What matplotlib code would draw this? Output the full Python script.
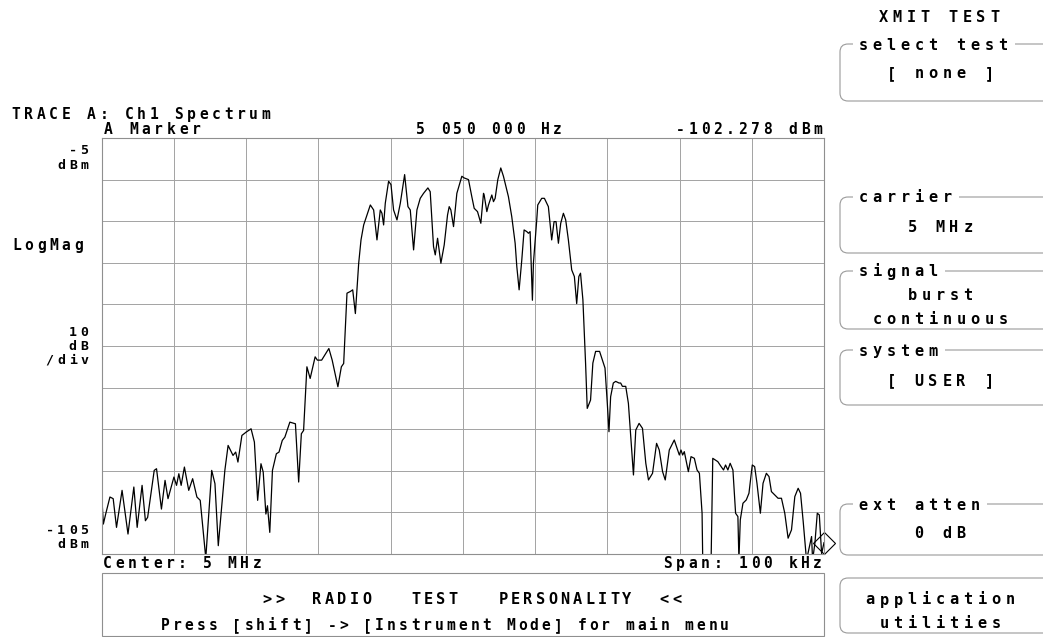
import matplotlib
matplotlib.use("Agg")
import matplotlib.pyplot as plt
from matplotlib.patches import FancyBboxPatch, Rectangle
import numpy as np

W, H = 1043, 637

# Trace A: channel spectrum, offset from 5 MHz centre (kHz) and level (dBm)
offset_khz = [
    -50.0, -49.77, -49.45, -48.86, -48.41, -47.95, -47.18, -46.36, -45.55, -45.09,
    -44.41, -43.95, -43.64, -42.73, -42.41, -41.73, -41.23, -40.82, -40.0, -39.64,
    -39.32, -39.0, -38.55, -37.95, -37.41, -36.82, -36.36, -35.59, -34.77, -34.32,
    -33.86, -32.95, -32.5, -31.82, -31.45, -31.14, -30.59, -30.0, -29.32, -28.86,
    -28.41, -27.95, -27.64, -27.27, -27.05, -26.73, -26.36, -25.82, -25.45, -25.0,
    -24.64, -23.95, -23.18, -22.73, -22.36, -22.05, -21.59, -21.14, -20.45, -20.14,
    -19.55, -18.55, -18.09, -17.3, -16.82, -16.5, -16.04, -15.58, -15.25, -14.88,
    -14.42, -14.1, -13.73, -12.81, -12.35, -11.89, -11.43, -11.2, -10.97, -10.74,
    -10.28, -9.95, -9.59, -9.12, -8.66, -8.06, -7.6, -7.28, -6.82, -6.36,
    -5.9, -5.44, -4.84, -4.52, -4.06, -3.82, -3.5, -3.23, -3.04, -2.58,
    -2.12, -1.89, -1.66, -1.29, -0.83, -0.14, 0.18, 0.78, 1.24, 1.57,
    2.03, 2.49, 2.86, 2.95, 3.32, 3.55, 4.01, 4.24, 4.47, 4.84,
    5.25, 5.62, 6.31, 6.77, 7.24, 7.47, 7.79, 8.16, 8.48, 8.85,
    9.08, 9.31, 9.63, 9.77, 10.23, 10.37, 10.92, 11.29, 11.84, 12.3,
    12.63, 12.9, 13.23, 13.55, 13.92, 14.24, 14.61, 15.07, 15.44, 15.76,
    16.06, 16.29, 16.62, 16.99, 17.22, 17.68, 18.0, 18.38, 18.93, 19.3,
    19.68, 20.0, 20.23, 20.46, 20.83, 21.16, 21.62, 21.85, 22.09, 22.55,
    22.92, 23.25, 23.62, 23.94, 24.4, 24.87, 25.33, 25.7, 26.26, 26.82,
    27.19, 27.65, 28.02, 28.58, 29.27, 29.74, 29.97, 30.2, 30.43, 30.66,
    30.99, 31.22, 31.59, 32.05, 32.42, 32.75, 33.12, 33.21, 34.37, 34.6,
    35.3, 35.76, 36.09, 36.37, 36.69, 37.01, 37.39, 37.76, 38.08, 38.22,
    38.41, 38.78, 39.24, 39.61, 40.07, 40.4, 40.72, 41.19, 41.56, 42.02,
    42.39, 42.72, 43.18, 43.64, 44.11, 44.57, 45.03, 45.5, 45.96, 46.42,
    46.75, 47.12, 47.58, 48.28, 48.42, 48.74, 49.07, 49.35, 49.67, 50.0,
]
level_dbm = [
    -90.9, -97.8, -95.4, -91.3, -91.7, -98.6, -89.7, -100.2, -88.9, -98.6,
    -88.5, -97.0, -96.2, -84.9, -84.5, -94.2, -87.3, -91.7, -86.5, -88.5,
    -85.7, -88.5, -84.1, -89.7, -86.9, -91.3, -92.1, -106.0, -84.9, -88.1,
    -103.0, -84.9, -78.9, -81.3, -80.5, -82.9, -76.5, -75.7, -74.9, -78.1,
    -92.1, -83.3, -85.3, -95.4, -93.4, -99.8, -84.9, -80.9, -80.5, -77.7,
    -76.9, -73.3, -73.7, -87.7, -76.1, -75.3, -60.0, -62.8, -57.6, -58.4,
    -58.4, -55.6, -58.4, -64.8, -60.0, -59.2, -42.3, -41.9, -41.5, -47.2,
    -35.1, -29.5, -25.9, -21.1, -22.3, -29.5, -22.3, -23.1, -25.9, -20.7,
    -15.4, -16.2, -22.3, -24.7, -20.7, -13.8, -21.5, -22.3, -31.9, -22.3,
    -19.5, -18.3, -17.0, -17.9, -31.1, -33.1, -29.1, -32.7, -35.1, -30.7,
    -23.5, -21.5, -22.3, -26.3, -18.3, -14.2, -14.6, -15.0, -19.1, -21.9,
    -22.7, -25.5, -18.3, -18.7, -22.7, -21.1, -18.7, -20.3, -19.5, -15.0,
    -12.2, -14.2, -19.1, -23.9, -30.3, -35.9, -41.5, -34.3, -27.1, -27.5,
    -27.9, -27.5, -44.0, -35.1, -24.7, -21.1, -19.5, -19.5, -21.5, -29.5,
    -25.1, -25.1, -30.3, -25.5, -23.1, -24.7, -29.5, -36.7, -38.3, -44.8,
    -38.3, -37.5, -43.9, -59.1, -70.0, -68.0, -59.1, -56.3, -56.3, -58.3,
    -60.3, -68.8, -75.6, -67.2, -63.9, -63.5, -63.9, -63.9, -64.7, -64.7,
    -68.8, -76.8, -86.0, -75.2, -73.6, -74.8, -83.2, -87.2, -85.6, -78.4,
    -80.0, -85.2, -87.2, -80.0, -77.6, -80.0, -81.2, -80.0, -81.2, -80.4,
    -83.2, -85.2, -81.6, -82.0, -84.8, -85.6, -95.2, -106.5, -106.5, -82.0,
    -82.8, -84.0, -84.8, -83.6, -84.8, -83.2, -84.8, -95.2, -96.0, -106.5,
    -96.8, -92.8, -92.0, -90.4, -83.6, -84.0, -88.0, -95.2, -88.0, -85.6,
    -86.4, -90.0, -90.8, -91.6, -91.6, -95.2, -101.2, -99.2, -91.2, -89.2,
    -90.4, -97.2, -106.5, -100.8, -106.5, -102.4, -95.2, -95.6, -104.9, -102.278,
]

marker_khz = 50.0
marker_dbm = -102.278
ref_level = -5
bottom_level = -105

# softkey menu: (top px, bottom px, title, [(value, y px), ...])
softkeys = [
    (44, 101, "select test", [("[ none ]", 73)]),
    (197, 253, "carrier", [("5 MHz", 226)]),
    (271, 329, "signal", [("burst", 295), ("continuous", 318)]),
    (350, 405, "system", [("[ USER ]", 380)]),
    (504, 555, "ext atten", [("0 dB", 532)]),
    (578, 633, None, [("application", 599), ("utilities", 622)]),
]

FONT = "DejaVu Sans Mono"
GRID = "#a3a3a3"

fig = plt.figure(figsize=(W / 100, H / 100), dpi=100)
fig.patch.set_facecolor("white")

# ── trace window ──────────────────────────────────────────────────────────
x0, x1, y0, y1 = 101.7, 824.0, 138.0, 554.0
ax = fig.add_axes([x0 / W, 1 - y1 / H, (x1 - x0) / W, (y1 - y0) / H])
ax.plot(offset_khz, level_dbm, color="black", lw=0.9)
ax.plot([marker_khz], [marker_dbm], marker="D", ms=11.5, mfc="none",
        mec="black", mew=0.8, clip_on=False)
ax.set_xlim(-50, 50)
ax.set_ylim(bottom_level, ref_level)
ax.set_xticks(np.arange(-50, 51, 10))
ax.set_yticks(np.arange(bottom_level, ref_level + 1, 10))
ax.tick_params(length=0, labelbottom=False, labelleft=False)
ax.grid(True, color=GRID, lw=0.7)
for sp in ax.spines.values():
    sp.set_color("#8f8f8f")
    sp.set_linewidth(0.8)

# ── screen overlay in pixel coordinates ───────────────────────────────────
ov = fig.add_axes([0, 0, 1, 1], zorder=3)
ov.set_xlim(0, W)
ov.set_ylim(H, 0)
ov.axis("off")


def spaced(x, y, s, ha="left", pitch=12.5, size=10.5):
    """Draw fixed-pitch screen text, one glyph per cell."""
    n = len(s)
    if ha == "center":
        x -= n * pitch / 2
    elif ha == "right":
        x -= n * pitch
    for i, ch in enumerate(s):
        if ch != " ":
            ov.text(x + (i + 0.5) * pitch, y + size / 2, ch, ha="center",
                    va="baseline", family=FONT, fontweight="bold",
                    fontsize=size, color="black")
    return x, x + n * pitch


spaced(10, 114, "TRACE A: Ch1 Spectrum")
spaced(102, 129, "A Marker")
spaced(414, 129, "5 050 000 Hz")
spaced(824, 129, f"{marker_dbm:.3f} dBm", ha="right")

# scale annotations left of the graticule
scale_kw = dict(ha="right", pitch=11.5, size=9.5)
spaced(90, 149, f"{ref_level}", **scale_kw)
spaced(90, 164, "dBm", **scale_kw)
spaced(10, 245, "LogMag")
spaced(90, 331, "10", **scale_kw)
spaced(90, 345, "dB", **scale_kw)
spaced(90, 359, "/div", **scale_kw)
spaced(90, 529, f"{bottom_level}", **scale_kw)
spaced(90, 543, "dBm", **scale_kw)

spaced(101, 563, "Center: 5 MHz")
spaced(824, 563, "Span: 100 kHz", ha="right")

# message box under the trace
ov.add_patch(Rectangle((101.5, 573), 722, 63, fill=False, ec="#8f8f8f", lw=0.8))
spaced(472, 598, ">>  RADIO   TEST   PERSONALITY  <<", ha="center",
       pitch=12.4, size=11)
spaced(445, 625, "Press [shift] -> [Instrument Mode] for main menu", ha="center",
       pitch=11.9)

# softkey column
spaced(939, 16, "XMIT TEST", ha="center", pitch=14, size=11)
for top, bot, title, values in softkeys:
    ov.add_patch(FancyBboxPatch((840, top), 260, bot - top,
                                boxstyle="round,pad=0,rounding_size=8",
                                fill=False, ec="#9a9a9a", lw=0.8))
    if title:
        lx0, lx1 = 856, 856 + len(title) * 14
        ov.add_patch(Rectangle((lx0 - 3, top - 3), lx1 - lx0 + 8, 6,
                               fc="white", ec="none", zorder=2))
        spaced(lx0, top, title, pitch=14, size=11)
    for text, vy in values:
        spaced(940, vy, text, ha="center", pitch=14, size=11)

fig.savefig("out.png", dpi=100)
